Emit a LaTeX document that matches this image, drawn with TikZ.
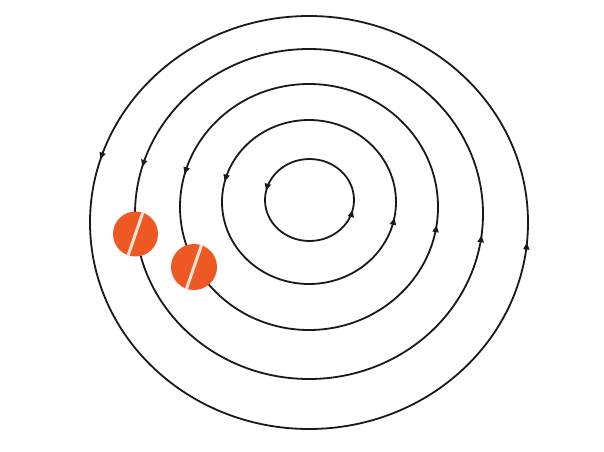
\documentclass[tikz,border=0pt]{standalone}
\usetikzlibrary{decorations.markings,arrows.meta}
\definecolor{ballorange}{RGB}{238,88,34}
\definecolor{stripecol}{RGB}{250,228,218}
\definecolor{orbitcol}{RGB}{25,25,25}
\begin{document}
\begin{tikzpicture}[x=1pt,y=1pt,
  orbit/.style={line width=1.8pt, draw=orbitcol},
  arrowsat/.style 2 args={postaction={decorate}, decoration={markings,
     mark=at position #1 with {\arrow[orbitcol]{Triangle[length=7pt,width=6pt]}},
     mark=at position #2 with {\arrow[orbitcol]{Triangle[length=7pt,width=6pt]}}}},
  ball/.style={fill=ballorange, draw=none},
  stripe/.style={draw=stripecol, line width=3pt},
  ]
\useasboundingbox (0,0) rectangle (604,451);
\fill[white] (0,0) rectangle (604,451);
% orbits (counterclockwise)
\draw[orbit, arrowsat={0.465}{0.962}] (309.5,251) ellipse [x radius=44.5pt, y radius=41pt];
\draw[orbit, arrowsat={0.461}{0.970}] (309,249) ellipse [x radius=87pt, y radius=82pt];
\draw[orbit, arrowsat={0.458}{0.977}] (309,244) ellipse [x radius=129pt, y radius=123pt];
\draw[orbit, arrowsat={0.455}{0.980}] (309,237) ellipse [x radius=174pt, y radius=165pt];
\draw[orbit, arrowsat={0.452}{0.985}] (309,228.5) ellipse [x radius=219pt, y radius=206.5pt];
% balls
\fill[ball] (135.5,217) circle[radius=22.5pt];
\begin{scope}
\clip (135.5,217) circle[radius=22.5pt];
\draw[stripe] (143.5,240.3) -- (127.5,193.7);
\end{scope}
\fill[ball] (194,184) circle[radius=23pt];
\begin{scope}
\clip (194,184) circle[radius=23pt];
\draw[stripe] (202.2,207.8) -- (185.8,160.2);
\end{scope}
\end{tikzpicture}
\end{document}
